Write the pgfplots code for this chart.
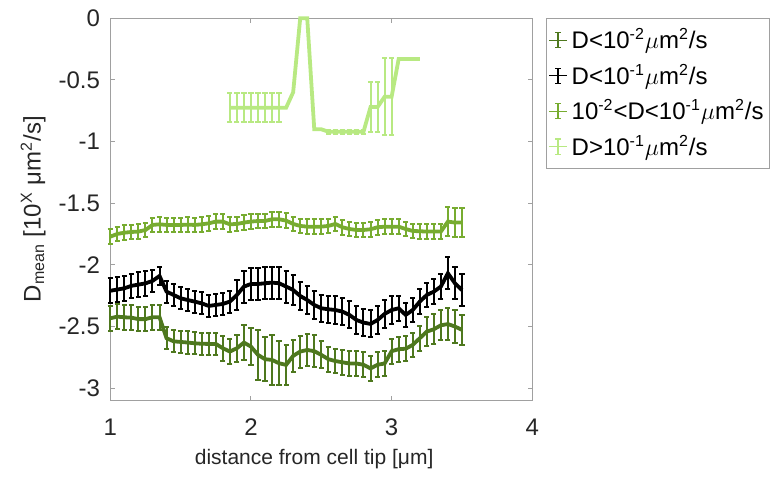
\documentclass[border=0pt]{standalone}
\usepackage{pgfplots}
\pgfplotsset{compat=1.18}
\usepackage{pgfplotstable}
\usepackage{fontspec}
\setmainfont{Liberation Sans}
\definecolor{dg}{RGB}{78,120,30}
\definecolor{mg}{RGB}{119,172,48}
\definecolor{lg}{RGB}{184,233,130}
\definecolor{axgray}{RGB}{160,160,160}
\definecolor{txt}{RGB}{38,38,38}

\pgfplotstableread{
x y e
1.00 -2.433 0.10
1.05 -2.420 0.10
1.10 -2.425 0.10
1.15 -2.428 0.10
1.20 -2.440 0.10
1.25 -2.440 0.10
1.30 -2.425 0.10
1.35 -2.425 0.10
1.40 -2.595 0.09
1.45 -2.620 0.09
1.50 -2.625 0.09
1.55 -2.630 0.09
1.60 -2.636 0.09
1.65 -2.640 0.09
1.70 -2.641 0.09
1.75 -2.641 0.09
1.80 -2.676 0.10
1.85 -2.703 0.10
1.90 -2.676 0.11
1.95 -2.630 0.14
2.00 -2.663 0.15
2.05 -2.730 0.20
2.10 -2.765 0.18
2.15 -2.771 0.20
2.20 -2.798 0.18
2.25 -2.811 0.16
2.30 -2.738 0.13
2.35 -2.703 0.13
2.40 -2.690 0.13
2.45 -2.700 0.13
2.50 -2.730 0.11
2.55 -2.765 0.10
2.60 -2.780 0.10
2.65 -2.790 0.10
2.70 -2.800 0.10
2.75 -2.800 0.10
2.80 -2.810 0.10
2.85 -2.840 0.10
2.90 -2.810 0.10
2.95 -2.800 0.10
3.00 -2.700 0.10
3.05 -2.684 0.10
3.10 -2.680 0.10
3.15 -2.649 0.10
3.20 -2.595 0.10
3.25 -2.541 0.12
3.30 -2.522 0.12
3.35 -2.490 0.12
3.40 -2.480 0.13
3.45 -2.500 0.13
3.50 -2.527 0.12
}\dgtab

\pgfplotstableread{
x y e
1.00 -2.210 0.10
1.05 -2.200 0.10
1.10 -2.190 0.10
1.15 -2.170 0.10
1.20 -2.160 0.10
1.25 -2.150 0.10
1.30 -2.130 0.09
1.35 -2.090 0.07
1.40 -2.217 0.09
1.45 -2.244 0.09
1.50 -2.271 0.09
1.55 -2.285 0.09
1.60 -2.298 0.09
1.65 -2.312 0.09
1.70 -2.333 0.09
1.75 -2.325 0.09
1.80 -2.317 0.09
1.85 -2.298 0.09
1.90 -2.244 0.12
1.95 -2.176 0.13
2.00 -2.155 0.13
2.05 -2.155 0.13
2.10 -2.149 0.13
2.15 -2.144 0.13
2.20 -2.149 0.13
2.25 -2.176 0.13
2.30 -2.204 0.12
2.35 -2.252 0.11
2.40 -2.285 0.11
2.45 -2.325 0.11
2.50 -2.352 0.11
2.55 -2.360 0.11
2.60 -2.366 0.11
2.65 -2.379 0.11
2.70 -2.406 0.11
2.75 -2.447 0.11
2.80 -2.468 0.11
2.85 -2.479 0.11
2.90 -2.447 0.11
2.95 -2.398 0.11
3.00 -2.366 0.11
3.05 -2.352 0.10
3.10 -2.406 0.10
3.15 -2.366 0.10
3.20 -2.298 0.10
3.25 -2.244 0.10
3.30 -2.217 0.10
3.35 -2.176 0.10
3.40 -2.068 0.13
3.45 -2.149 0.13
3.50 -2.204 0.13
}\bktab

\pgfplotstableread{
x y e
1.00 -1.771 0.06
1.05 -1.749 0.06
1.10 -1.739 0.06
1.15 -1.733 0.06
1.20 -1.730 0.06
1.25 -1.717 0.06
1.30 -1.676 0.06
1.35 -1.671 0.06
1.40 -1.676 0.06
1.45 -1.676 0.06
1.50 -1.676 0.06
1.55 -1.674 0.06
1.60 -1.676 0.06
1.65 -1.671 0.06
1.70 -1.663 0.06
1.75 -1.649 0.06
1.80 -1.649 0.06
1.85 -1.671 0.06
1.90 -1.668 0.06
1.95 -1.657 0.06
2.00 -1.649 0.06
2.05 -1.644 0.06
2.10 -1.644 0.06
2.15 -1.630 0.06
2.20 -1.630 0.06
2.25 -1.641 0.06
2.30 -1.668 0.06
2.35 -1.684 0.06
2.40 -1.690 0.06
2.45 -1.690 0.06
2.50 -1.690 0.06
2.55 -1.684 0.06
2.60 -1.668 0.06
2.65 -1.695 0.06
2.70 -1.709 0.06
2.75 -1.717 0.06
2.80 -1.717 0.06
2.85 -1.711 0.06
2.90 -1.695 0.06
2.95 -1.690 0.06
3.00 -1.690 0.06
3.05 -1.690 0.06
3.10 -1.709 0.06
3.15 -1.725 0.06
3.20 -1.727 0.06
3.25 -1.730 0.06
3.30 -1.730 0.06
3.35 -1.730 0.06
3.40 -1.649 0.115
3.45 -1.657 0.115
3.50 -1.657 0.115
}\mgtab

\pgfplotstableread{
x y
1.85 -0.725
1.90 -0.725
1.95 -0.725
2.00 -0.725
2.05 -0.725
2.10 -0.725
2.15 -0.725
2.20 -0.725
2.25 -0.725
2.30 -0.600
2.35 0.000
2.40 0.000
2.45 -0.900
2.50 -0.900
2.55 -0.920
2.60 -0.920
2.65 -0.920
2.70 -0.920
2.75 -0.920
2.80 -0.920
2.85 -0.720
2.90 -0.720
2.95 -0.636
3.00 -0.636
3.05 -0.330
3.10 -0.330
3.15 -0.330
3.20 -0.330
}\lgline

\pgfplotstableread{
x y e
1.85 -0.725 0.12
1.90 -0.725 0.12
1.95 -0.725 0.12
2.00 -0.725 0.12
2.05 -0.725 0.12
2.10 -0.725 0.12
2.15 -0.725 0.12
2.20 -0.725 0.12
2.55 -0.920 0.015
2.60 -0.920 0.015
2.65 -0.920 0.015
2.70 -0.920 0.015
2.75 -0.920 0.015
2.80 -0.920 0.015
2.85 -0.720 0.20
2.90 -0.720 0.20
2.95 -0.636 0.31
3.00 -0.636 0.31
}\lgbars

\begin{document}
\begin{tikzpicture}
\begin{axis}[
  scale only axis,
  width=211pt, height=190.85pt,
  xmin=1, xmax=4, ymin=-3.096, ymax=0,
  xtick={1,2,3,4},
  ytick={-3,-2.5,-2,-1.5,-1,-0.5,0},
  clip=false,
  axis line style={axgray, line width=0.5pt},
  tick style={axgray, line width=0.5pt},
  tick align=inside,
  major tick length=2.2pt,
  /pgf/number format/assume math mode=true,
  ticklabel style={font=\fontsize{12}{14}\selectfont, text=txt},
  xticklabel style={anchor=base, inner sep=0pt, yshift=-17.5pt},
  yticklabel style={anchor=east, inner sep=0pt, xshift=-5pt},
  xlabel={distance from cell tip [μm]},
  every axis x label/.style={at={(axis description cs:0.483,-0.168)}, anchor=base, font=\fontsize{10.5}{12}\selectfont, text=txt},
  ylabel={D\textsubscript{mean} [10\textsuperscript{X} μm\textsuperscript{2}/s]},
  every axis y label/.style={at={(axis description cs:-0.183,0.5)}, rotate=90, anchor=center, font=\fontsize{12}{14}\selectfont, text=txt},
  legend style={at={(axis description cs:1,1)}, anchor=north west, xshift=6.85pt,
    draw=axgray, line width=0.5pt, font=\fontsize{12}{14}\selectfont,
    inner xsep=1pt, inner ysep=3pt, row sep=2.3pt, cells={anchor=west}},
  legend image code/.code={
    \draw[line width=0.6pt] (0pt,0pt) -- (9pt,0pt);
    \draw[line width=0.6pt] (4.5pt,-3.8pt) -- (4.5pt,3.8pt);
    \draw[line width=0.6pt] (3.2pt,3.8pt) -- (5.8pt,3.8pt);
    \draw[line width=0.6pt] (3.2pt,-3.8pt) -- (5.8pt,-3.8pt);
  },
  error bars/error bar style={line width=1pt},
  error bars/error mark options={rotate=90, line width=1pt, mark size=1.3pt},
]
\addplot[dg, line width=1.9pt, error bars/.cd, y dir=both, y explicit]
  table[x=x, y=y, y error=e] {\dgtab};
\addlegendentry{D<10\textsuperscript{-2}$\mu$m\textsuperscript{2}/s}
\addplot[black, line width=1.9pt, error bars/.cd, y dir=both, y explicit]
  table[x=x, y=y, y error=e] {\bktab};
\addlegendentry{D<10\textsuperscript{-1}$\mu$m\textsuperscript{2}/s}
\addplot[mg, line width=1.9pt, error bars/.cd, y dir=both, y explicit]
  table[x=x, y=y, y error=e] {\mgtab};
\addlegendentry{10\textsuperscript{-2}<D<10\textsuperscript{-1}$\mu$m\textsuperscript{2}/s}
\addplot[lg, line width=1.9pt, forget plot] table[x=x, y=y] {\lgline};
\addplot[lg, draw=none, mark=none, forget plot, error bars/.cd, y dir=both, y explicit,
  error bar style={draw=lg, line width=1pt},
  error mark options={draw=lg, rotate=90, line width=1pt, mark size=1.3pt}]
  table[x=x, y=y, y error=e] {\lgbars};
\addlegendimage{lg}
\addlegendentry{D>10\textsuperscript{-1}$\mu$m\textsuperscript{2}/s}
\end{axis}
\pgfresetboundingbox
\path[use as bounding box] (-55.15pt,-41.5pt) rectangle (333.35pt,200pt);
\end{tikzpicture}
\end{document}
